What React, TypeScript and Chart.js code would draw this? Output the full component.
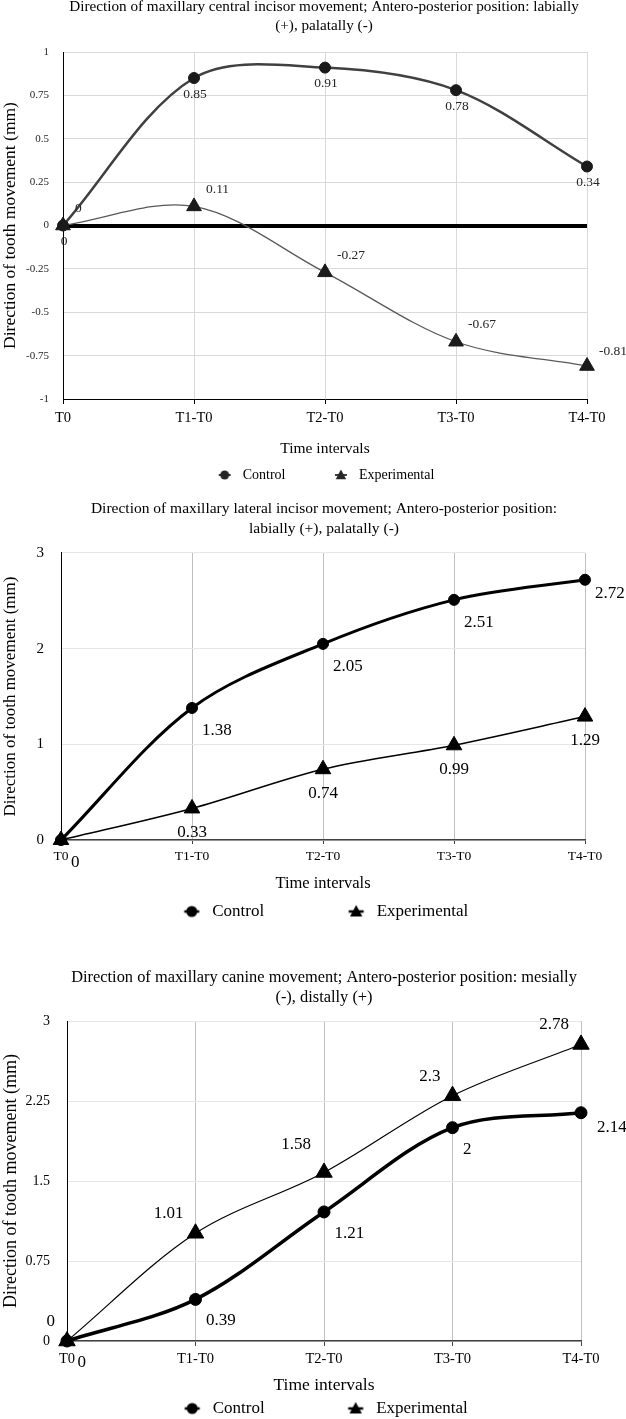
import React, { useEffect, useRef } from 'react';
import { Chart, registerables } from 'chart.js';

Chart.register(...registerables);

const SERIF = "'Liberation Serif', 'Times New Roman', serif";
Chart.defaults.font.family = SERIF;
Chart.defaults.color = '#000';

// ---------- data ----------
const categories = ['T0', 'T1-T0', 'T2-T0', 'T3-T0', 'T4-T0'];
const seriesNames = ['Control', 'Experimental'];
const xAxisTitle = 'Time intervals';
const yAxisTitle = 'Direction of tooth movement (mm)';

const c1Title = [
  'Direction of maxillary central incisor movement; Antero-posterior position: labially',
  '(+), palatally (-)',
];
const c1Control = [0, 0.85, 0.91, 0.78, 0.34];
const c1Experimental = [0, 0.11, -0.27, -0.67, -0.81];
const c1YTicks = [-1, -0.75, -0.5, -0.25, 0, 0.25, 0.5, 0.75, 1];
const c1YLabels = ['-1', '-0.75', '-0.5', '-0.25', '0', '0.25', '0.5', '0.75', '1'];

const c2Title = [
  'Direction of maxillary lateral incisor movement; Antero-posterior position:',
  'labially (+), palatally (-)',
];
const c2Control = [0, 1.38, 2.05, 2.51, 2.72];
const c2Experimental = [0, 0.33, 0.74, 0.99, 1.29];
const c2YTicks = [0, 1, 2, 3];
const c2YLabels = ['0', '1', '2', '3'];

const c3Title = [
  'Direction of maxillary canine movement; Antero-posterior position: mesially',
  '(-), distally (+)',
];
const c3Control = [0, 0.39, 1.21, 2, 2.14];
const c3Experimental = [0, 1.01, 1.58, 2.3, 2.78];
const c3YTicks = [0, 0.75, 1.5, 2.25, 3];
const c3YLabels = ['0', '0.75', '1.5', '2.25', '3'];

// ---------- styles / layout ----------
const specs: any[] = [
  {
    top: 0, height: 492,
    title: c1Title, titleSize: 15.2, titleLH: 1.25, titlePadTop: -2.3, titlePadBottom: 16.3,
    control: c1Control, experimental: c1Experimental,
    yTicks: c1YTicks, yLabels: c1YLabels, yTickSize: 11, yTickPad: 14, yTickColor: '#262626',
    yWidth: 41, rightWidth: 39,
    xTickSize: 14.5, xTickLen: 5, xTickPad: 5.8, xTitleSize: 15.5, xHeight: 58.8, yTitleSize: 17.5,
    legendSize: 14, legendPad: 44.5, legendBox: 22, legendTitlePad: -35.5,
    marker: { w: 22, h: 14, line: 12, lineW: 2, r: 4.5, tri: 5.5, color: '#262626', lineColor: '#404040' },
    ctrl: { color: '#404040', point: '#1a1a1a', width: 2.5, radius: 5.5 },
    exp: { color: '#595959', point: '#1a1a1a', width: 1.3, radius: 8.5 },
    gridX: '#d9d9d9', gridY: '#d9d9d9', zeroLine: true, borderX: '#000', borderXW: 1, borderY: '#000',
    labels: [
      { size: 13.5, color: '#262626', align: 'center', dx: 1, dy: 16, shift: {} },
      { size: 13.5, color: '#262626', align: 'left', dx: 12, dy: -17, shift: { 4: [0, 2.5] } },
    ],
  },
  {
    top: 490, height: 440,
    title: c2Title, titleSize: 15.5, titleLH: 1.29, titlePadTop: 8.5, titlePadBottom: 14.5,
    control: c2Control, experimental: c2Experimental,
    yTicks: c2YTicks, yLabels: c2YLabels, yTickSize: 15, yTickPad: 17, yTickColor: '#000',
    yWidth: 39, rightWidth: 41,
    xTickSize: 13.5, xTickLen: 4, xTickPad: 4.4, xTitleSize: 16.5, xHeight: 53.9, yTitleSize: 17,
    legendSize: 17, legendPad: 80, legendBox: 24, legendTitlePad: -72.1,
    marker: { w: 24, h: 18, line: 15, lineW: 2.5, r: 5.5, tri: 6.5, color: '#000', lineColor: '#000' },
    ctrl: { color: '#000', point: '#000', width: 3, radius: 5.5 },
    exp: { color: '#000', point: '#000', width: 1.5, radius: 9 },
    gridX: '#bfbfbf', gridY: '#e6e6e6', zeroLine: false, borderX: '#404040', borderXW: 1.5, borderY: '#000',
    labels: [
      { size: 17, color: '#000', align: 'left', dx: 10, dy: 22.5, shift: { 4: [0, -9] } },
      { size: 17, color: '#000', align: 'center', dx: 0, dy: 24, shift: {}, hide: [0] },
    ],
  },
  {
    top: 945, height: 482,
    title: c3Title, titleSize: 16.4, titleLH: 1.25, titlePadTop: 22.25, titlePadBottom: 12.75,
    control: c3Control, experimental: c3Experimental,
    yTicks: c3YTicks, yLabels: c3YLabels, yTickSize: 14, yTickPad: 17, yTickColor: '#000',
    yWidth: 45, rightWidth: 45,
    xTickSize: 14.5, xTickLen: 5, xTickPad: 4.8, xTitleSize: 17.5, xHeight: 54.5, yTitleSize: 18,
    legendSize: 17, legendPad: 79, legendBox: 24, legendTitlePad: -75.7,
    marker: { w: 24, h: 18, line: 15, lineW: 2.5, r: 5.5, tri: 6.5, color: '#000', lineColor: '#000' },
    ctrl: { color: '#000', point: '#000', width: 3.5, radius: 6 },
    exp: { color: '#000', point: '#000', width: 1.2, radius: 9.5 },
    gridX: '#bfbfbf', gridY: '#e6e6e6', zeroLine: false, borderX: '#404040', borderXW: 1.5, borderY: '#000',
    labels: [
      { size: 17, color: '#000', align: 'left', dx: 10.5, dy: 21.5, shift: { 4: [5.5, -7] } },
      { size: 17, color: '#000', align: 'right', dx: -12, dy: -19.5, shift: { 2: [-1, -8] } },
    ],
  },
];

// ---------- plugin: value labels next to points ----------
const pointValueLabels = {
  id: 'pointValueLabels',
  afterDatasetsDraw(chart: any, _args: any, opts: any) {
    const ctx = chart.ctx;
    (opts.sets || []).forEach((set: any, di: number) => {
      const meta = chart.getDatasetMeta(di);
      const values = chart.data.datasets[di].data;
      ctx.save();
      ctx.font = `${set.size}px ${SERIF}`;
      ctx.fillStyle = set.color;
      ctx.textAlign = set.align;
      ctx.textBaseline = 'middle';
      meta.data.forEach((el: any, i: number) => {
        if (set.hide && set.hide.includes(i)) return;
        const sh = (set.shift && set.shift[i]) || [0, 0];
        ctx.fillText(String(values[i]), el.x + set.dx + sh[0], el.y + set.dy + sh[1]);
      });
      ctx.restore();
    });
  },
};

function makeMarker(kind: 'circle' | 'triangle', m: any): HTMLCanvasElement {
  const c = document.createElement('canvas');
  c.width = m.w;
  c.height = m.h;
  const g = c.getContext('2d')!;
  const cx = m.w / 2;
  const cy = m.h / 2;
  g.strokeStyle = m.lineColor;
  g.lineWidth = m.lineW;
  g.beginPath();
  g.moveTo(cx - m.line / 2, cy);
  g.lineTo(cx + m.line / 2, cy);
  g.stroke();
  g.fillStyle = m.color;
  g.beginPath();
  if (kind === 'circle') {
    g.arc(cx, cy, m.r, 0, Math.PI * 2);
  } else {
    const a = m.tri;
    g.moveTo(cx, cy - a);
    g.lineTo(cx + a * 0.95, cy + a * 0.75);
    g.lineTo(cx - a * 0.95, cy + a * 0.75);
    g.closePath();
  }
  g.fill();
  return c;
}

function buildConfig(s: any): any {
  const markerC = makeMarker('circle', s.marker);
  const markerT = makeMarker('triangle', s.marker);
  return {
    type: 'line',
    data: {
      labels: categories,
      datasets: [
        {
          label: seriesNames[0],
          data: s.control,
          borderColor: s.ctrl.color,
          backgroundColor: s.ctrl.point,
          borderWidth: s.ctrl.width,
          pointStyle: 'circle',
          pointRadius: s.ctrl.radius,
          pointHoverRadius: s.ctrl.radius,
          pointBackgroundColor: s.ctrl.point,
          pointBorderColor: s.ctrl.point,
          pointBorderWidth: 1,
          tension: 0.33,
          fill: false,
          clip: false,
          yAxisID: 'y',
        },
        {
          label: seriesNames[1],
          data: s.experimental,
          borderColor: s.exp.color,
          backgroundColor: s.exp.point,
          borderWidth: s.exp.width,
          pointStyle: 'triangle',
          pointRadius: s.exp.radius,
          pointHoverRadius: s.exp.radius,
          pointBackgroundColor: s.exp.point,
          pointBorderColor: s.exp.point,
          pointBorderWidth: 1,
          tension: 0.33,
          fill: false,
          clip: false,
          yAxisID: 'y',
        },
      ],
    },
    options: {
      responsive: false,
      animation: false,
      events: [],
      layout: { padding: { left: 22, right: 0, top: 0, bottom: 0 } },
      plugins: {
        title: {
          display: true,
          text: s.title,
          color: '#000',
          font: { family: SERIF, size: s.titleSize, lineHeight: s.titleLH, weight: 'normal' },
          padding: { top: s.titlePadTop, bottom: s.titlePadBottom },
        },
        legend: {
          position: 'bottom',
          labels: {
            usePointStyle: true,
            pointStyleWidth: s.legendBox,
            padding: s.legendPad,
            color: '#000',
            font: { family: SERIF, size: s.legendSize },
            generateLabels: (chart: any) => {
              const items = (Chart.defaults.plugins.legend.labels as any).generateLabels(chart);
              items.forEach((it: any, i: number) => {
                it.pointStyle = i === 0 ? markerC : markerT;
              });
              return items;
            },
          },
          title: {
            display: true,
            text: '',
            font: { size: 1, lineHeight: 1.2 },
            padding: { top: s.legendTitlePad, bottom: 0 },
          },
        },
        tooltip: { enabled: false },
        pointValueLabels: { sets: s.labels },
      },
      scales: {
        x: {
          type: 'category',
          offset: false,
          grid: {
            display: true,
            color: s.gridX,
            lineWidth: 1,
            drawTicks: true,
            tickLength: s.xTickLen,
            tickColor: s.borderX,
          },
          border: { display: true, color: s.borderX, width: s.borderXW },
          ticks: {
            autoSkip: false,
            maxRotation: 0,
            padding: s.xTickPad,
            color: '#000',
            font: { family: SERIF, size: s.xTickSize },
          },
          title: {
            display: true,
            text: xAxisTitle,
            color: '#000',
            font: { family: SERIF, size: s.xTitleSize },
            padding: { top: 0, bottom: 0 },
          },
          afterFit: (sc: any) => {
            sc.height = s.xHeight;
          },
        },
        y: {
          type: 'linear',
          position: 'left',
          min: s.yTicks[0],
          max: s.yTicks[s.yTicks.length - 1],
          afterBuildTicks: (sc: any) => {
            sc.ticks = s.yTicks.map((v: number) => ({ value: v }));
          },
          grid: {
            display: true,
            drawTicks: false,
            color: (c: any) => (s.zeroLine && c.tick && c.tick.value === 0 ? '#000' : s.gridY),
            lineWidth: (c: any) => (s.zeroLine && c.tick && c.tick.value === 0 ? 4 : 1),
          },
          border: { display: true, color: s.borderY, width: 1 },
          ticks: {
            padding: s.yTickPad,
            color: s.yTickColor,
            font: { family: SERIF, size: s.yTickSize },
            callback: (v: number) => s.yLabels[s.yTicks.indexOf(v)],
          },
          title: {
            display: true,
            text: yAxisTitle,
            color: '#000',
            font: { family: SERIF, size: s.yTitleSize },
            padding: { top: -22, bottom: 0 },
          },
          afterFit: (sc: any) => {
            sc.width = s.yWidth;
          },
        },
        yR: {
          type: 'linear',
          position: 'right',
          display: true,
          grid: { display: false, drawTicks: false },
          border: { display: false },
          ticks: { display: false },
          afterFit: (sc: any) => {
            sc.width = s.rightWidth;
          },
        },
      },
    },
    plugins: [pointValueLabels],
  };
}

function Panel({ spec }: { spec: any }) {
  const ref = useRef<HTMLCanvasElement>(null);
  useEffect(() => {
    const canvas = ref.current;
    if (!canvas) return;
    const chart = new Chart(canvas, buildConfig(spec));
    return () => chart.destroy();
  }, [spec]);
  return (
    <div style={{ position: 'absolute', left: 0, top: spec.top, width: 626, height: spec.height }}>
      <canvas
        ref={ref}
        width={626}
        height={spec.height}
        style={{ display: 'block', width: 626, height: spec.height }}
      />
    </div>
  );
}

export default function App() {
  return (
    <div
      style={{
        position: 'absolute',
        left: 0,
        top: 0,
        width: 626,
        height: 1419,
        overflow: 'hidden',
        background: '#fff',
      }}
    >
      {specs.map((s, i) => (
        <Panel key={i} spec={s} />
      ))}
    </div>
  );
}
